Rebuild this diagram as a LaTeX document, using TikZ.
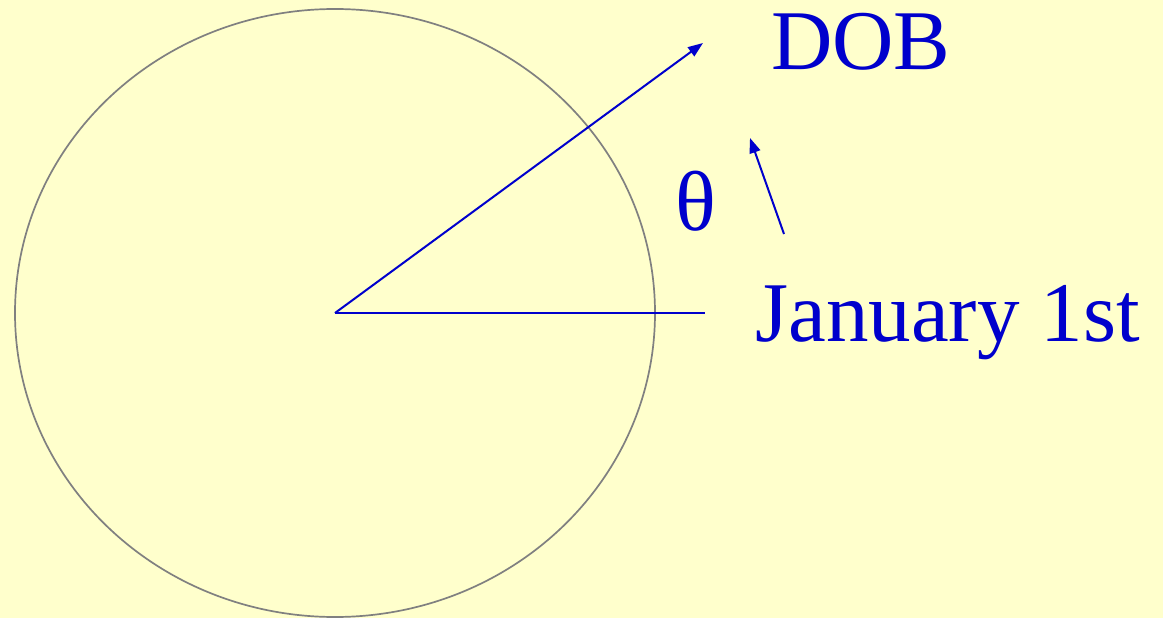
\documentclass[tikz,border=0pt]{standalone}
\usepackage{fontspec}
\setmainfont{Liberation Serif}
\usetikzlibrary{arrows.meta}
\definecolor{bg}{HTML}{FFFFCC}
\definecolor{lblue}{HTML}{0000CC}
\definecolor{cgray}{HTML}{808080}
\tikzset{
  bigtext/.style={text=lblue, inner sep=0pt, anchor=base west, font=\fontsize{85}{90}\selectfont},
  ray/.style={draw=lblue, line width=2pt},
  arr/.style={ray, -{Triangle[length=15pt,width=11pt]}}
}
\begin{document}
\begin{tikzpicture}[x=1pt,y=-1pt]
\fill[bg] (0,0) rectangle (1163,618);
\useasboundingbox (0,0) rectangle (1163,618);
\draw[cgray, line width=1.7pt] (335,313) ellipse [x radius=320, y radius=304];
\coordinate (c) at (335,313);
\coordinate (jend) at (705,313);
\coordinate (dend) at (703,43);
\coordinate (tstart) at (784,234);
\coordinate (tend) at (750,138);
\draw[ray] (c) -- (jend);
\draw[arr] (c) -- (dend);
\draw[arr] (tstart) -- (tend);
\node[bigtext] (dob) at (771,70) {DOB};
\node[bigtext] (theta) at (675,230) {θ};
\node[bigtext] (jan) at (755,341) {January 1st};
\end{tikzpicture}
\end{document}
